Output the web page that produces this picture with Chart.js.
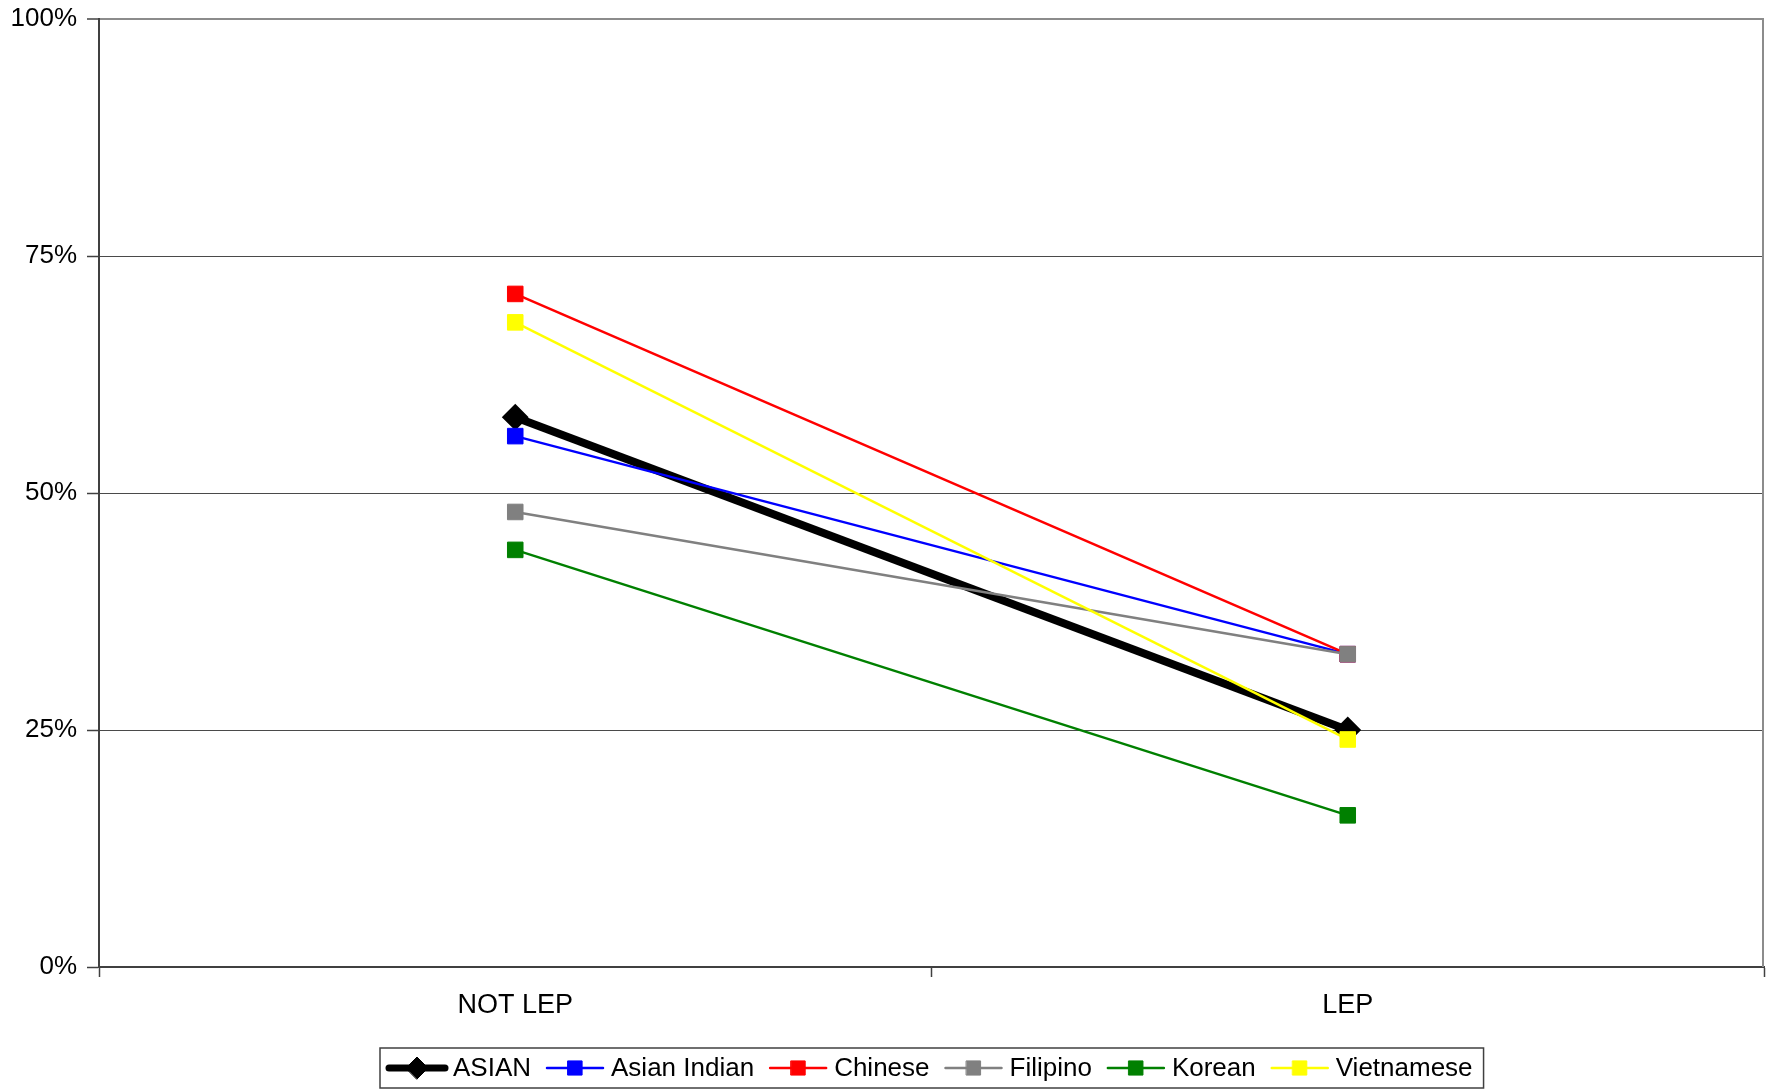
<!DOCTYPE html>
<html>
<head>
<meta charset="utf-8">
<script src="https://cdn.jsdelivr.net/npm/chart.js@4.4.1/dist/chart.umd.min.js"></script>
<style>
  html, body { margin: 0; padding: 0; background: #fff; }
  canvas { display: block; }
</style>
</head>
<body>
<canvas id="lep" width="1766" height="1089"></canvas>
<script>
// categories and series (percent)
const categories = ['NOT LEP', 'LEP'];
const seriesNames = ['ASIAN', 'Asian Indian', 'Chinese', 'Filipino', 'Korean', 'Vietnamese'];
const asian = [58, 25];
const asianIndian = [56, 33];
const chinese = [71, 33];
const filipino = [48, 33];
const korean = [44, 16];
const vietnamese = [68, 24];
const yTicks = [0, 25, 50, 75, 100];

const FONT = "'Liberation Sans', Arial, sans-serif";
Chart.defaults.font.family = FONT;
Chart.defaults.font.size = 26;
Chart.defaults.color = '#000';

function series(label, data, color, width, style, radius, order) {
    return {
        label: label,
        data: data,
        borderColor: color,
        backgroundColor: color,
        borderWidth: width,
        pointStyle: style,
        pointRadius: radius,
        pointHoverRadius: radius,
        pointBackgroundColor: color,
        pointBorderColor: color,
        pointBorderWidth: style === 'rectRot' ? 2 : 1,
        tension: 0,
        order: order
    };
}

// excel style legend: line sample with marker, inside a box under the plot
const boxLegend = {
    id: 'boxLegend',
    afterDraw(chart) {
        const ctx = chart.ctx;
        const area = chart.chartArea;
        const sets = chart.data.datasets;
        const lineLen = 62, gapText = 5, gapItem = 13, padL = 6, padR = 11;
        ctx.save();
        ctx.font = '26px ' + FONT;
        const widths = sets.map(d => ctx.measureText(d.label).width);
        let total = padL + padR;
        widths.forEach((w, i) => {
            total += lineLen + gapText + w + (i < widths.length - 1 ? gapItem : 0);
        });
        const left = Math.round((area.left + area.right) / 2 - total / 2);
        const top = 1048, bottom = 1088, cy = (top + bottom) / 2;
        ctx.strokeStyle = '#404040';
        ctx.lineWidth = 1.5;
        ctx.strokeRect(left, top, total, bottom - top);
        let x = left + padL;
        sets.forEach((d, i) => {
            ctx.strokeStyle = d.borderColor;
            ctx.lineWidth = Math.min(d.borderWidth, 7);
            ctx.lineCap = 'round';
            ctx.beginPath();
            ctx.moveTo(x + 3, cy);
            ctx.lineTo(x + lineLen - 3, cy);
            ctx.stroke();
            ctx.fillStyle = d.pointBackgroundColor;
            ctx.strokeStyle = d.pointBorderColor;
            ctx.lineWidth = 1;
            Chart.helpers.drawPoint(ctx, {
                pointStyle: d.pointStyle,
                radius: d.pointStyle === 'rectRot' ? 11 : 10,
                borderWidth: 1,
                rotation: 0
            }, x + lineLen / 2, cy);
            x += lineLen + gapText;
            ctx.fillStyle = '#000';
            ctx.textBaseline = 'middle';
            ctx.textAlign = 'left';
            ctx.fillText(d.label, x, cy + 1);
            x += widths[i] + gapItem;
        });
        ctx.restore();
    }
};

// right edge of the plot frame
const plotFrame = {
    id: 'plotFrame',
    beforeDatasetsDraw(chart) {
        const a = chart.chartArea;
        const ctx = chart.ctx;
        ctx.save();
        ctx.strokeStyle = '#8c8c8c';
        ctx.lineWidth = 2;
        ctx.beginPath();
        ctx.moveTo(a.right - 1, a.top);
        ctx.lineTo(a.right - 1, a.bottom);
        ctx.stroke();
        ctx.restore();
    }
};

const ctx = document.getElementById('lep').getContext('2d');

const lepChart = new Chart(ctx, {
    type: 'line',
    data: {
        labels: categories,
        datasets: [
            series(seriesNames[0], asian, '#000000', 8, 'rectRot', 12, 6),
            series(seriesNames[1], asianIndian, '#0000ff', 2.5, 'rect', 11, 5),
            series(seriesNames[2], chinese, '#ff0000', 2.5, 'rect', 11, 4),
            series(seriesNames[3], filipino, '#808080', 2.5, 'rect', 11, 3),
            series(seriesNames[4], korean, '#008000', 2.5, 'rect', 11, 2),
            series(seriesNames[5], vietnamese, '#ffff00', 2.5, 'rect', 11, 1)
        ]
    },
    options: {
        responsive: false,
        animation: false,
        devicePixelRatio: 1,
        layout: { autoPadding: false, padding: { top: 19, right: 2, left: 0, bottom: 0 } },
        plugins: {
            legend: { display: false },
            tooltip: { enabled: false }
        },
        scales: {
            x: {
                offset: true,
                grid: {
                    offset: true,
                    drawOnChartArea: false,
                    drawTicks: true,
                    tickLength: 10,
                    tickColor: '#404040',
                    tickWidth: 1.5
                },
                border: { color: '#404040', width: 2 },
                ticks: { padding: 12, color: '#000', font: { size: 27 } },
                afterFit(scale) {
                    scale.height = 122;
                    scale.paddingLeft = 0;
                    scale.paddingRight = 0;
                }
            },
            y: {
                min: 0,
                max: 100,
                afterBuildTicks(scale) {
                    scale.ticks = yTicks.map(v => ({ value: v }));
                },
                grid: {
                    color: c => (c.tick && c.tick.value === 100) ? '#8c8c8c' : '#4a4a4a',
                    lineWidth: c => (c.tick && c.tick.value === 100) ? 2 : 1,
                    tickLength: 12,
                    tickColor: '#404040',
                    tickWidth: 1.5
                },
                border: { color: '#404040', width: 2 },
                ticks: {
                    padding: 10,
                    color: '#000',
                    callback: v => v + '%'
                },
                afterFit(scale) {
                    scale.width = 99;
                    scale.paddingTop = 0;
                    scale.paddingBottom = 0;
                }
            }
        }
    },
    plugins: [plotFrame, boxLegend]
});
</script>
</body>
</html>
